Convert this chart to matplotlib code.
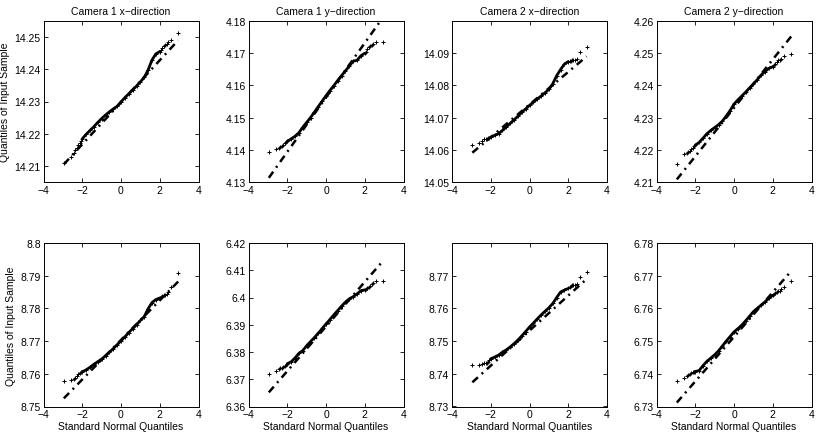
import matplotlib
matplotlib.use("Agg")
import matplotlib.pyplot as plt

plt.rcParams['font.family'] = ['Liberation Sans', 'DejaVu Sans']
plt.rcParams['font.size'] = 7.5

# Theoretical (standard normal) quantiles shared by all panels
x_q = [-2.95, -2.6, -2.45, -2.35, -2.27, -2.2, -2.13, -2.07,
       -2.0, -1.8, -1.6, -1.4, -1.2, -1.0, -0.8, -0.6, -0.4, -0.2, 0.0,
       0.2, 0.4, 0.6, 0.8, 1.0, 1.2, 1.4, 1.6, 1.8, 2.0,
       2.07, 2.13, 2.2, 2.27, 2.35, 2.45, 2.6, 2.95]

titles = ["Camera 1 x\u2212direction", "Camera 1 y\u2212direction",
          "Camera 2 x\u2212direction", "Camera 2 y\u2212direction"]

# Sample quantiles, top row
cam1_x_a = [14.2110, 14.2127, 14.2140, 14.2148, 14.2156, 14.2165, 14.2172, 14.2178,
            14.2184, 14.2198, 14.2210, 14.2222, 14.2235, 14.2247, 14.2258, 14.2268, 14.2277, 14.2285, 14.2299,
            14.2312, 14.2324, 14.2336, 14.2348, 14.2361, 14.2375, 14.2398, 14.2429, 14.2448, 14.2455,
            14.2460, 14.2465, 14.2472, 14.2476, 14.2479, 14.2484, 14.2492, 14.2512]
cam1_y_a = [4.1393, 4.1402, 4.1405, 4.1408, 4.1412, 4.1416, 4.1420, 4.1423,
            4.1426, 4.1434, 4.1442, 4.1453, 4.1470, 4.1485, 4.1500, 4.1517, 4.1534, 4.1551, 4.1568,
            4.1584, 4.1599, 4.1615, 4.1630, 4.1645, 4.1660, 4.1675, 4.1678, 4.1692, 4.1700,
            4.1703, 4.1712, 4.1718, 4.1722, 4.1726, 4.1728, 4.1734, 4.1734]
cam2_x_a = [14.0615, 14.0622, 14.0628, 14.0633, 14.0634, 14.0635, 14.0636, 14.0637,
            14.0639, 14.0645, 14.0650, 14.0660, 14.0671, 14.0682, 14.0693, 14.0704, 14.0716, 14.0727, 14.0738,
            14.0748, 14.0758, 14.0767, 14.0777, 14.0788, 14.0805, 14.0830, 14.0849, 14.0866, 14.0874,
            14.0876, 14.0877, 14.0878, 14.0879, 14.0880, 14.0883, 14.0905, 14.0918]
cam2_y_a = [4.2155, 4.2186, 4.2190, 4.2193, 4.2196, 4.2202, 4.2207, 4.2211,
            4.2214, 4.2223, 4.2236, 4.2250, 4.2260, 4.2269, 4.2278, 4.2289, 4.2305, 4.2322, 4.2342,
            4.2355, 4.2367, 4.2379, 4.2392, 4.2404, 4.2418, 4.2432, 4.2443, 4.2453, 4.2458,
            4.2462, 4.2465, 4.2472, 4.2478, 4.2480, 4.2482, 4.2490, 4.2499]
# Sample quantiles, bottom row
cam1_x_b = [8.7579, 8.7582, 8.7585, 8.7588, 8.7594, 8.7599, 8.7602, 8.7604,
            8.7606, 8.7612, 8.7620, 8.7629, 8.7637, 8.7645, 8.7655, 8.7666, 8.7677, 8.7689, 8.7701,
            8.7713, 8.7726, 8.7738, 8.7750, 8.7763, 8.7775, 8.7799, 8.7818, 8.7827, 8.7832,
            8.7834, 8.7837, 8.7840, 8.7842, 8.7844, 8.7850, 8.7865, 8.7909]
cam1_y_b = [6.3719, 6.3731, 6.3737, 6.3741, 6.3743, 6.3746, 6.3750, 6.3754,
            6.3757, 6.3764, 6.3778, 6.3795, 6.3805, 6.3823, 6.3838, 6.3853, 6.3869, 6.3886, 6.3903,
            6.3919, 6.3936, 6.3952, 6.3968, 6.3983, 6.3995, 6.4003, 6.4013, 6.4025, 6.4028,
            6.4030, 6.4034, 6.4040, 6.4044, 6.4048, 6.4055, 6.4060, 6.4060]
cam2_x_b = [8.7427, 8.7428, 8.7431, 8.7433, 8.7433, 8.7434, 8.7437, 8.7442,
            8.7446, 8.7451, 8.7457, 8.7466, 8.7473, 8.7482, 8.7492, 8.7503, 8.7516, 8.7529, 8.7543,
            8.7555, 8.7568, 8.7580, 8.7591, 8.7602, 8.7615, 8.7633, 8.7650, 8.7656, 8.7661,
            8.7664, 8.7668, 8.7671, 8.7672, 8.7673, 8.7676, 8.7697, 8.7710]
cam2_y_b = [6.7379, 6.7386, 6.7392, 6.7396, 6.7399, 6.7402, 6.7404, 6.7406,
            6.7407, 6.7410, 6.7425, 6.7438, 6.7448, 6.7458, 6.7470, 6.7485, 6.7500, 6.7514, 6.7528,
            6.7538, 6.7549, 6.7562, 6.7576, 6.7590, 6.7600, 6.7610, 6.7620, 6.7631, 6.7640,
            6.7643, 6.7646, 6.7650, 6.7652, 6.7654, 6.7659, 6.7665, 6.7684]

samples = [cam1_x_a, cam1_y_a, cam2_x_a, cam2_y_a,
           cam1_x_b, cam1_y_b, cam2_x_b, cam2_y_b]

# Reference line endpoints (at the min/max theoretical quantile)
line_x = [-2.95, 2.95]
line_y = [[14.2105, 14.2490], [4.1313, 4.1812], [14.0591, 14.0890], [4.2108, 4.2552],
          [8.7525, 8.7882], [6.3652, 6.4135], [8.7374, 8.7690], [6.7312, 6.7714]]

ylims = [(14.205, 14.255), (4.13, 4.18), (14.05, 14.10), (4.21, 4.26),
         (8.75, 8.80), (6.36, 6.42), (8.73, 8.78), (6.73, 6.78)]
yticks = [[14.21, 14.22, 14.23, 14.24, 14.25],
          [4.13, 4.14, 4.15, 4.16, 4.17, 4.18],
          [14.05, 14.06, 14.07, 14.08, 14.09],
          [4.21, 4.22, 4.23, 4.24, 4.25, 4.26],
          [8.75, 8.76, 8.77, 8.78, 8.79, 8.8],
          [6.36, 6.37, 6.38, 6.39, 6.4, 6.41, 6.42],
          [8.73, 8.74, 8.75, 8.76, 8.77],
          [6.73, 6.74, 6.75, 6.76, 6.77, 6.78]]
ytick_labels = [["14.21", "14.22", "14.23", "14.24", "14.25"],
                ["4.13", "4.14", "4.15", "4.16", "4.17", "4.18"],
                ["14.05", "14.06", "14.07", "14.08", "14.09"],
                ["4.21", "4.22", "4.23", "4.24", "4.25", "4.26"],
                ["8.75", "8.76", "8.77", "8.78", "8.79", "8.8"],
                ["6.36", "6.37", "6.38", "6.39", "6.4", "6.41", "6.42"],
                ["8.73", "8.74", "8.75", "8.76", "8.77"],
                ["6.73", "6.74", "6.75", "6.76", "6.77", "6.78"]]
xticks = [-4, -2, 0, 2, 4]

W, H = 817, 435
fig = plt.figure(figsize=(W / 100, H / 100), dpi=100)
lefts = [43.5, 248.5, 452.0, 656.5]
rows = [(22.0, 183.0), (244.0, 407.5)]
aw = 155.0

for i in range(8):
    r, c = divmod(i, 4)
    top, bot = rows[r]
    ax = fig.add_axes([lefts[c] / W, (H - bot) / H, aw / W, (bot - top) / H])
    ys = samples[i]
    mid = [k for k, xv in enumerate(x_q) if -2.0 <= xv <= 2.0]
    ax.plot([x_q[k] for k in mid], [ys[k] for k in mid], '-', color='black', lw=2.0,
            solid_capstyle='round', zorder=2)
    ax.plot(x_q, ys, '+', color='black', ms=3.5, mew=0.7, zorder=3)
    ax.plot(line_x, line_y[i], color='black', lw=1.8,
            linestyle=(0, (3.0, 2.0, 0.8, 2.0)), zorder=2)
    ax.set_xlim(-4, 4)
    ax.set_ylim(*ylims[i])
    ax.set_xticks(xticks)
    ax.set_xticklabels(["\u22124", "\u22122", "0", "2", "4"])
    ax.set_yticks(yticks[i])
    ax.set_yticklabels(ytick_labels[i])
    ax.tick_params(direction='in', length=3, width=0.6, top=True, right=True,
                   labelsize=7.5, pad=2)
    for s in ax.spines.values():
        s.set_linewidth(0.7)
    if r == 0:
        ax.set_title(titles[c], fontsize=7.5, pad=5)
    else:
        ax.set_xlabel("Standard Normal Quantiles", fontsize=7.5, labelpad=1)
    if c == 0:
        ax.set_ylabel("Quantiles of Input Sample", fontsize=7.5, labelpad=3)

fig.savefig("out.png", dpi=100)
